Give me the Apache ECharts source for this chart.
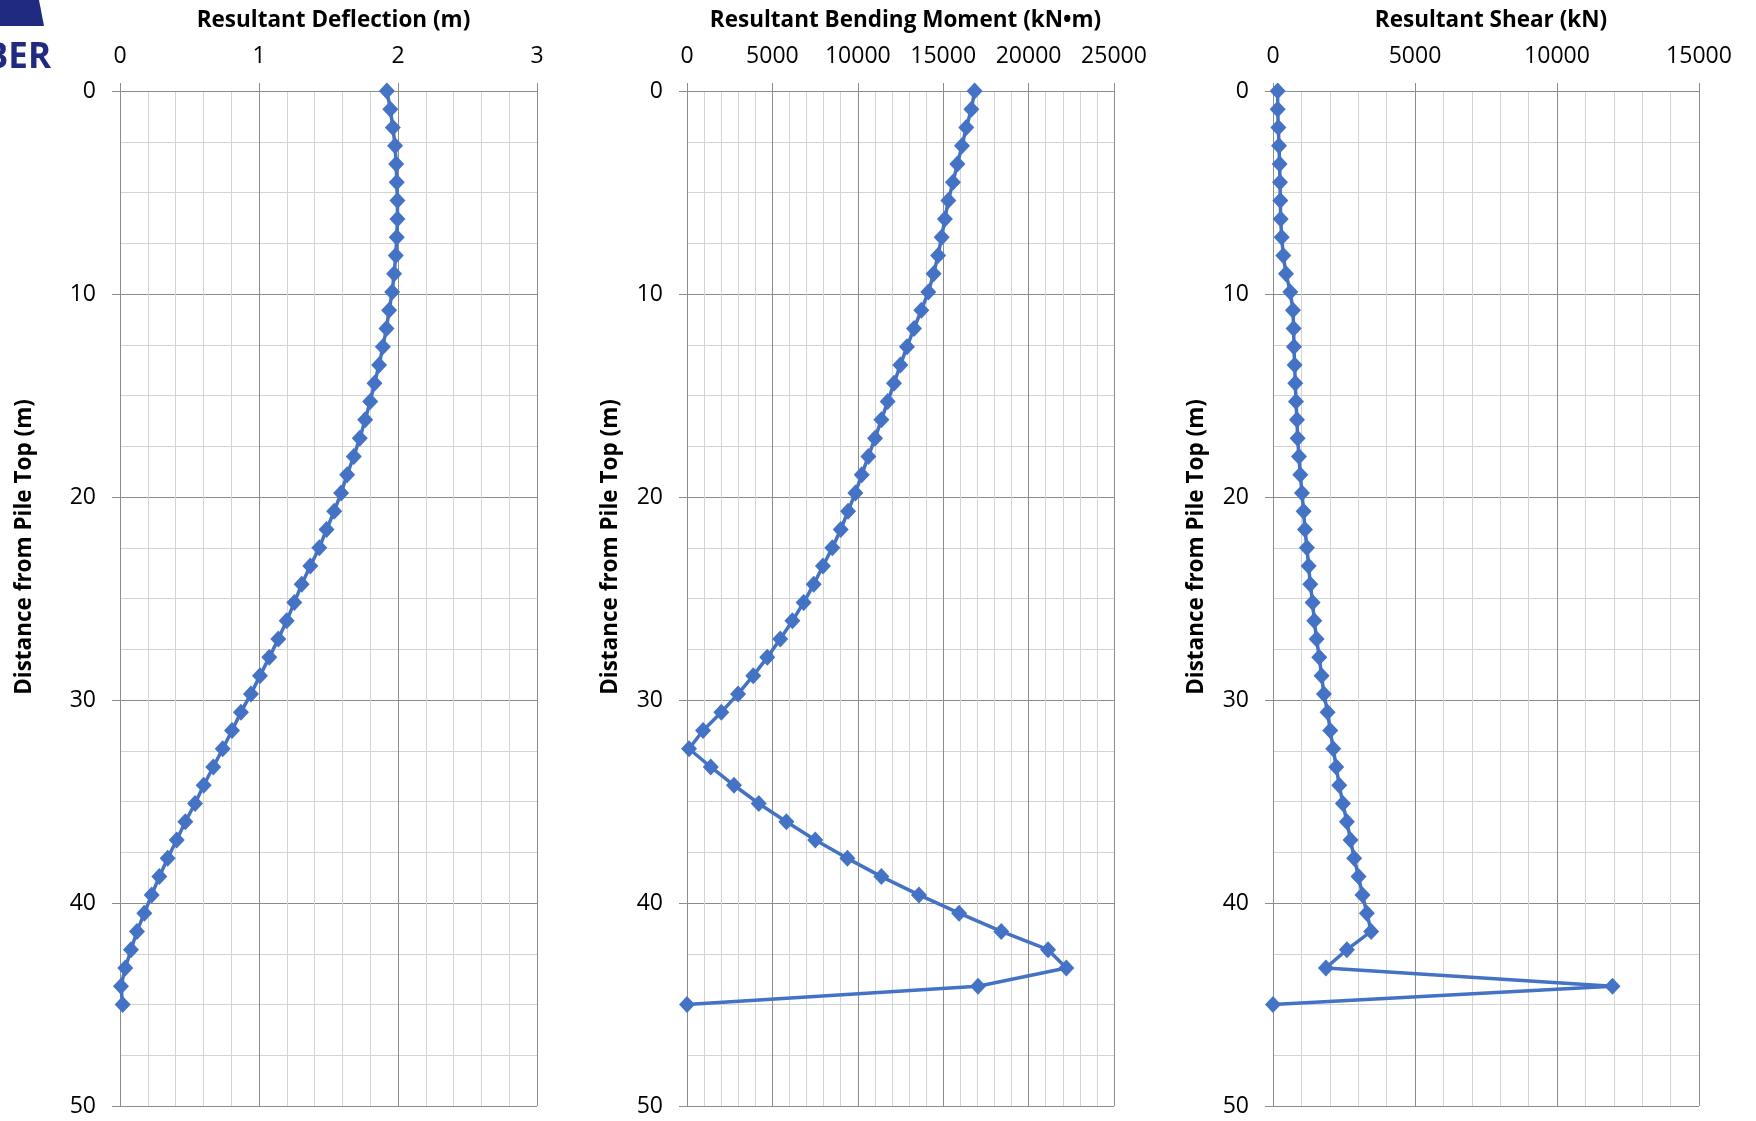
<!DOCTYPE html>
<html>
<head>
<meta charset="utf-8">
<title>Pile response</title>
<script src="https://cdn.jsdelivr.net/npm/echarts@6/dist/echarts.min.js"></script>
<style>
    html, body { margin: 0; padding: 0; background: #ffffff; }
    #chart { width: 1756px; height: 1121px; }
</style>
</head>
<body>
<div id="chart"></div>
<script>
    // depth below pile top (m)
    const depth = [0, 0.9, 1.8, 2.7, 3.6, 4.5, 5.4, 6.3, 7.2, 8.1, 9, 9.9, 10.8, 11.7, 12.6, 13.5, 14.4,
        15.3, 16.2, 17.1, 18, 18.9, 19.8, 20.7, 21.6, 22.5, 23.4, 24.3, 25.2, 26.1, 27, 27.9, 28.8,
        29.7, 30.6, 31.5, 32.4, 33.3, 34.2, 35.1, 36, 36.9, 37.8, 38.7, 39.6, 40.5, 41.4, 42.3, 43.2,
        44.1, 45]

    // resultant deflection (m)
    const deflection = [1.92, 1.945, 1.963, 1.979, 1.987, 1.991, 1.996, 1.996, 1.991, 1.984, 1.972, 1.958,
        1.936, 1.917, 1.891, 1.864, 1.831, 1.8, 1.764, 1.725, 1.682, 1.634, 1.591, 1.541, 1.486, 1.434,
        1.369, 1.307, 1.254, 1.199, 1.139, 1.074, 1.007, 0.942, 0.87, 0.806, 0.739, 0.671, 0.602, 0.54,
        0.47, 0.408, 0.343, 0.283, 0.228, 0.175, 0.122, 0.079, 0.038, 0.007, 0.019]

    // resultant bending moment (kN•m)
    const moment = [16840, 16650, 16350, 16100, 15830, 15570, 15300, 15100, 14910, 14700, 14440, 14130,
        13720, 13290, 12880, 12490, 12120, 11750, 11380, 11010, 10620, 10230, 9860, 9430, 9000, 8510,
        7960, 7420, 6830, 6170, 5460, 4700, 3880, 2990, 2010, 940, 120, 1390, 2750, 4200, 5820, 7510,
        9390, 11380, 13580, 15930, 18400, 21140, 22210, 17040, 0]

    // resultant shear (kN)
    const shear = [164, 164, 188, 211, 234, 246, 258, 270, 305, 363, 457, 609, 703, 727, 738, 762, 785,
        809, 844, 867, 914, 961, 1020, 1078, 1125, 1195, 1254, 1313, 1395, 1453, 1535, 1629, 1711, 1793,
        1922, 2016, 2121, 2227, 2332, 2461, 2602, 2731, 2859, 3012, 3152, 3305, 3457, 2602, 1863, 11953, 0]

    const titles = ['Resultant Deflection (m)', 'Resultant Bending Moment (kN•m)', 'Resultant Shear (kN)']
    const xMax = [3, 25000, 15000]
    const xStep = [1, 5000, 5000]
    const yName = 'Distance from Pile Top (m)'

    const FONT = '"Open Sans", "Noto Sans", sans-serif'
    const MAJOR = '#8c8c8c'
    const MINOR = '#d3d3d3'
    const BLUE = '#4472C4'

    // plot areas
    const grids = [
        {left: 120, width: 417, top: 91, height: 1015},
        {left: 687, width: 427, top: 91, height: 1015},
        {left: 1273, width: 426, top: 91, height: 1015}
    ]
    const nameX = [25, 611, 1197]

    const chart = echarts.init(document.getElementById('chart'), null, {renderer: 'canvas'})

    const pairs = (vals) => vals.map((v, i) => [v, depth[i]])

    chart.setOption({
        animation: false,
        backgroundColor: '#ffffff',
        textStyle: {fontFamily: FONT},
        title: titles.map((t, i) => ({
            text: t,
            left: grids[i].left + grids[i].width / 2,
            textAlign: 'center',
            top: 4,
            textStyle: {fontFamily: FONT, fontSize: 22.5, fontWeight: 'bold', color: '#000'}
        })),
        grid: grids.map(g => Object.assign({containLabel: false}, g)),
        xAxis: xMax.map((m, i) => ({
            type: 'value',
            gridIndex: i,
            position: 'top',
            min: 0,
            max: m,
            interval: xStep[i],
            axisLine: {show: true, onZero: false, lineStyle: {color: MAJOR, width: 1}},
            axisTick: {show: true, length: 8, lineStyle: {color: MAJOR}},
            axisLabel: {
                fontFamily: FONT, fontSize: 23, color: '#000', margin: 23,
                formatter: v => String(v)
            },
            splitLine: {show: true, lineStyle: {color: MAJOR, width: 1}},
            minorTick: {show: false, splitNumber: 5},
            minorSplitLine: {show: true, lineStyle: {color: MINOR, width: 1}}
        })),
        yAxis: xMax.map((m, i) => ({
            type: 'value',
            gridIndex: i,
            inverse: true,
            min: 0,
            max: 50,
            interval: 10,
            axisLine: {show: true, onZero: false, lineStyle: {color: MAJOR, width: 1}},
            axisTick: {show: true, length: 8, lineStyle: {color: MAJOR}},
            axisLabel: {fontFamily: FONT, fontSize: 23, color: '#000', margin: 24},
            splitLine: {show: true, lineStyle: {color: MAJOR, width: 1}},
            minorTick: {show: false, splitNumber: 4},
            minorSplitLine: {show: true, lineStyle: {color: MINOR, width: 1}}
        })),
        series: [deflection, moment, shear].map((vals, i) => ({
            type: 'line',
            xAxisIndex: i,
            yAxisIndex: i,
            data: pairs(vals),
            symbol: 'diamond',
            symbolSize: [16, 17],
            showAllSymbol: true,
            color: BLUE,
            itemStyle: {color: BLUE},
            lineStyle: {color: BLUE, width: 3.5},
            z: 5
        })),
        graphic: [
            // cropped logo in the top-left corner
            {
                type: 'polygon',
                shape: {points: [[0, 0], [39, 0], [44, 26], [0, 26]]},
                style: {fill: '#1f2a80'}
            },
            {
                type: 'text',
                right: 1756 - 51,
                top: 41,
                style: {text: 'BER', font: 'bold 35px "Open Sans", sans-serif', fill: '#1f2a80'}
            }
        ].concat(nameX.map(x => ({
            type: 'text',
            x: x,
            y: 547,
            rotation: Math.PI / 2,
            style: {
                text: yName,
                font: 'bold 22.5px "Open Sans", sans-serif',
                fill: '#000',
                textAlign: 'center',
                textVerticalAlign: 'middle'
            }
        })))
    })
</script>
</body>
</html>
